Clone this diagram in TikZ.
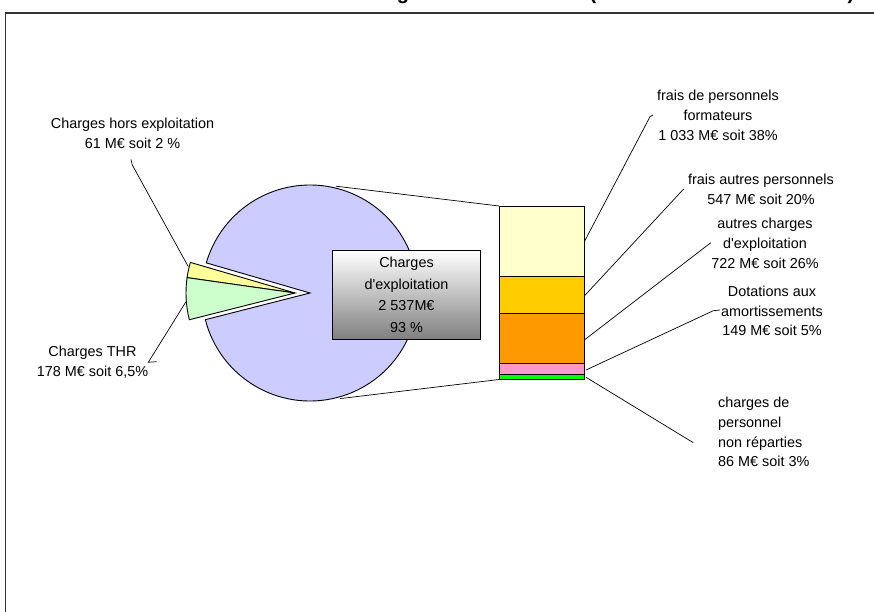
\documentclass[tikz,border=0pt]{standalone}
\usepackage{fontspec}
\setmainfont{Liberation Sans}
\definecolor{pieblue}{HTML}{CCCCFF}
\definecolor{pieyellow}{HTML}{FFFF99}
\definecolor{piegreen}{HTML}{CCFFCC}
\definecolor{barcream}{HTML}{FFFFCC}
\definecolor{baryellow}{HTML}{FFCC00}
\definecolor{barorange}{HTML}{FF9900}
\definecolor{barpink}{HTML}{FF99CC}
\definecolor{bargreen}{HTML}{00FF00}
\tikzset{
  lbl/.style={font=\fontsize{14.4}{19.7}\selectfont, inner sep=0pt, align=center},
  slice/.style={draw=black, line width=0.9pt},
  seg/.style={draw=black, line width=0.9pt},
  leader/.style={draw=black, line width=0.7pt},
  frameline/.style={draw=black!80, line width=1.6pt},
  titlefrag/.style={font=\fontsize{20}{24}\selectfont\bfseries, inner sep=0pt, anchor=base}
}
\begin{document}
\begin{tikzpicture}[x=1pt,y=-1pt]
\useasboundingbox (0,0) rectangle (874,612);
\fill[white] (0,0) rectangle (874,612);
% frame
\draw[frameline] (5.5,700) -- (5.5,13) -- (900,13);
% title fragments (cut off at top)
\node[titlefrag] (tg) at (403,-0.5) {g};
\node[titlefrag] (tp1) at (593,-0.5) {(};
\node[titlefrag] (tp2) at (851,-0.5) {)};
% pie
\coordinate (pc) at (310,293);
\coordinate (sc) at (295,293);
\draw[slice, fill=pieblue] (pc) -- ++(-194.3:108) arc[start angle=-194.3, end angle=-523.8, radius=108] -- cycle;
\draw[slice, fill=pieyellow] (sc) -- ++(-163.7:109) arc[start angle=-163.7, end angle=-171.9, radius=109] -- cycle;
\draw[slice, fill=piegreen] (sc) -- ++(-171.9:109) arc[start angle=-171.9, end angle=-194.2, radius=109] -- cycle;
% bar
\draw[seg, fill=barcream] (499,206) rectangle (584,276);
\draw[seg, fill=baryellow] (499,276) rectangle (584,313.3);
\draw[seg, fill=barorange] (499,313.3) rectangle (584,363.7);
\draw[seg, fill=barpink] (499,363.7) rectangle (584,374.3);
\draw[seg, fill=bargreen] (499,374.3) rectangle (584,379);
\coordinate (bartop) at (499,206);
\coordinate (barbot) at (499,379.5);
\coordinate (pietop) at (336,186.2);
\coordinate (piebot) at (340,398.6);
\draw[leader] (pietop) -- (bartop);
\draw[leader] (piebot) -- (barbot);
% central box
\shade[top color=white, bottom color=black!50] (332.7,250.7) rectangle (480.3,339.3);
\draw[line width=1pt] (332.7,250.7) rectangle (480.3,339.3);
\node[lbl, font=\fontsize{14.4}{21.5}\selectfont] (box) at (406.5,295) {Charges\\d\textquotesingle exploitation\\2 537M€\\93 \%};
% labels
\node[lbl] (l1) at (718,115.5) {frais de personnels\\formateurs\\1 033 M€ soit 38\%};
\node[lbl] (l2) at (761,189.5) {frais autres personnels\\547 M€ soit 20\%};
\node[lbl] (l3) at (765,243.5) {autres charges\\d\textquotesingle exploitation\\722 M€ soit 26\%};
\node[lbl] (l4) at (772,311) {Dotations aux\\amortissements\\149 M€ soit 5\%};
\node[lbl, align=left, anchor=west] (l5) at (718,432) {charges de\\personnel\\non réparties\\86 M€ soit 3\%};
\node[lbl] (l6) at (132.5,133.5) {Charges hors exploitation\\61 M€ soit 2 \%};
\node[lbl] (l7) at (92.5,362) {Charges THR\\178 M€ soit 6,5\%};
% leaders
\coordinate (e1) at (653,115);
\coordinate (e2) at (684,189);
\coordinate (e3) at (711,242.7);
\coordinate (e4) at (720,310);
\coordinate (e5) at (693.3,442.7);
\coordinate (e6) at (131,159.5);
\coordinate (e7) at (156.7,361.7);
\draw[leader] (584.3,241.7) -- (650,116.7) -- (e1);
\draw[leader] (584.3,296) -- (682.7,190) -- (e2);
\draw[leader] (584.3,340) -- (710,243.3) -- (e3);
\draw[leader] (586,370) -- (713.3,310.7) -- (e4);
\draw[leader] (586,377.3) -- (e5);
\draw[leader] (e6) -- (132.3,165) -- (188.3,266.7);
\draw[leader] (e7) -- (148.3,362.3) -- (186,301.7);
\end{tikzpicture}
\end{document}
